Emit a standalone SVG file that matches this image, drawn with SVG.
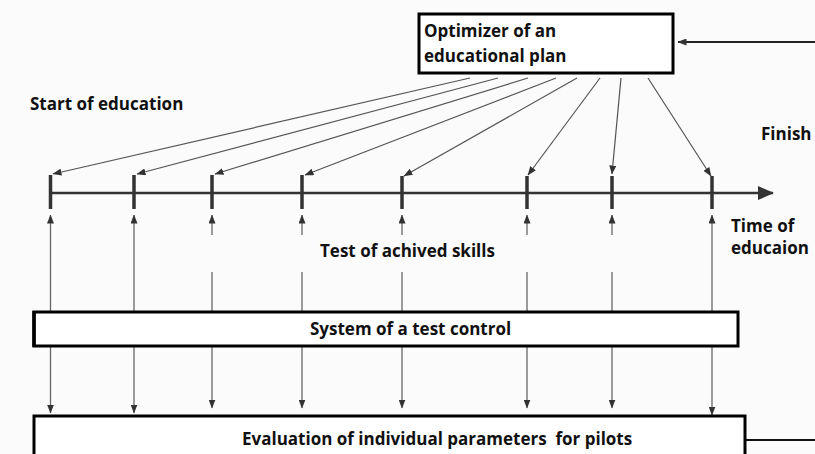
<svg xmlns="http://www.w3.org/2000/svg" width="815" height="454" viewBox="0 0 815 454">
<defs>
<marker id="ah" markerUnits="userSpaceOnUse" markerWidth="9" markerHeight="7" refX="8.5" refY="3.5" orient="auto">
<path d="M0,0 L9,3.5 L0,7 z" fill="#333"/>
</marker>
<marker id="big" markerUnits="userSpaceOnUse" markerWidth="16" markerHeight="14" refX="15" refY="7" orient="auto">
<path d="M0,0 L16,7 L0,14 z" fill="#333"/>
</marker>
<style>
.t{font-family:"Open Sans","DejaVu Sans",sans-serif;font-weight:bold;font-size:17px;fill:#111;white-space:pre}
.box{fill:#fff;stroke:#000;stroke-width:3}
.diag{stroke:#555;stroke-width:1.2;fill:none;marker-end:url(#ah)}
.vl{stroke:#666;stroke-width:1.3;fill:none}
.va{stroke:#666;stroke-width:1.3;fill:none;marker-end:url(#ah)}
.tick{stroke:#333;stroke-width:3.5}
</style>
</defs>
<rect width="815" height="454" fill="#fbfbfb"/>

<g id="connectors">
<!-- timeline -->
<line x1="50" y1="193" x2="773" y2="193" stroke="#333" stroke-width="2.5" marker-end="url(#big)"/>
<!-- ticks -->
<g class="tick">
<line x1="50.5" y1="175" x2="50.5" y2="209"/>
<line x1="134" y1="175" x2="134" y2="209"/>
<line x1="212" y1="175" x2="212" y2="209"/>
<line x1="302" y1="175" x2="302" y2="209"/>
<line x1="402" y1="176" x2="402" y2="209"/>
<line x1="527" y1="176" x2="527" y2="209"/>
<line x1="612" y1="176" x2="612" y2="209"/>
<line x1="712" y1="176" x2="712" y2="209"/>
</g>
<!-- diagonals from optimizer -->
<line class="diag" x1="470" y1="78" x2="53" y2="174"/>
<line class="diag" x1="498" y1="78" x2="137" y2="174"/>
<line class="diag" x1="528" y1="78" x2="215" y2="174"/>
<line class="diag" x1="556" y1="78" x2="305" y2="175"/>
<line class="diag" x1="577" y1="78" x2="404" y2="176"/>
<line class="diag" x1="600" y1="78" x2="528" y2="175"/>
<line class="diag" x1="621" y1="78" x2="612" y2="174"/>
<line class="diag" x1="648" y1="78" x2="711" y2="176"/>
<!-- input to optimizer -->
<line x1="815" y1="42" x2="678" y2="42" stroke="#222" stroke-width="2" marker-end="url(#ah)"/>
<!-- up arrows to ticks -->
<line class="va" x1="50.5" y1="312" x2="50.5" y2="215"/>
<line class="va" x1="134" y1="312" x2="134" y2="215"/>
<line class="va" x1="212" y1="235" x2="212" y2="215"/>
<line class="va" x1="302" y1="235" x2="302" y2="215"/>
<line class="va" x1="402" y1="235" x2="402" y2="215"/>
<line class="va" x1="527" y1="235" x2="527" y2="215"/>
<line class="va" x1="612" y1="235" x2="612" y2="215"/>
<line class="va" x1="712" y1="312" x2="712" y2="215"/>
<line class="vl" x1="212" y1="272" x2="212" y2="312"/>
<line class="vl" x1="302" y1="272" x2="302" y2="312"/>
<line class="vl" x1="402" y1="272" x2="402" y2="312"/>
<line class="vl" x1="527" y1="272" x2="527" y2="312"/>
<line class="vl" x1="612" y1="272" x2="612" y2="312"/>
<!-- down arrows to evaluation -->
<line class="va" x1="50.5" y1="346" x2="50.5" y2="413"/>
<line class="va" x1="134" y1="346" x2="134" y2="413"/>
<line class="va" x1="212" y1="346" x2="212" y2="408"/>
<line class="va" x1="302" y1="346" x2="302" y2="408"/>
<line class="va" x1="402" y1="346" x2="402" y2="408"/>
<line class="va" x1="527" y1="346" x2="527" y2="408"/>
<line class="va" x1="612" y1="346" x2="612" y2="408"/>
<line class="va" x1="712" y1="346" x2="712" y2="415"/>
<!-- output from evaluation -->
<line x1="745" y1="440" x2="815" y2="440" stroke="#111" stroke-width="2"/>
</g>

<g id="optimizer">
<rect class="box" x="419" y="14" width="254" height="59"/>
<text class="t" x="424" y="37">Optimizer of an</text>
<text class="t" x="424" y="62">educational plan</text>
</g>

<g id="system">
<rect class="box" x="34" y="312" width="704" height="34" stroke-width="2.5"/>
<line x1="34" y1="311" x2="34" y2="347" stroke="#000" stroke-width="3.5"/>
<text class="t" x="310" y="335">System of a test control</text>
</g>

<g id="evaluation">
<rect class="box" x="34" y="416" width="711" height="50"/>
<text class="t" x="242" y="445" xml:space="preserve">Evaluation of individual parameters  for pilots</text>
</g>

<g id="labels">
<text class="t" x="30" y="110">Start of education</text>
<text class="t" x="761" y="140">Finish</text>
<text class="t" x="731" y="232">Time of</text>
<text class="t" x="731" y="254">educaion</text>
<text class="t" x="320" y="257">Test of achived skills</text>
</g>
</svg>
